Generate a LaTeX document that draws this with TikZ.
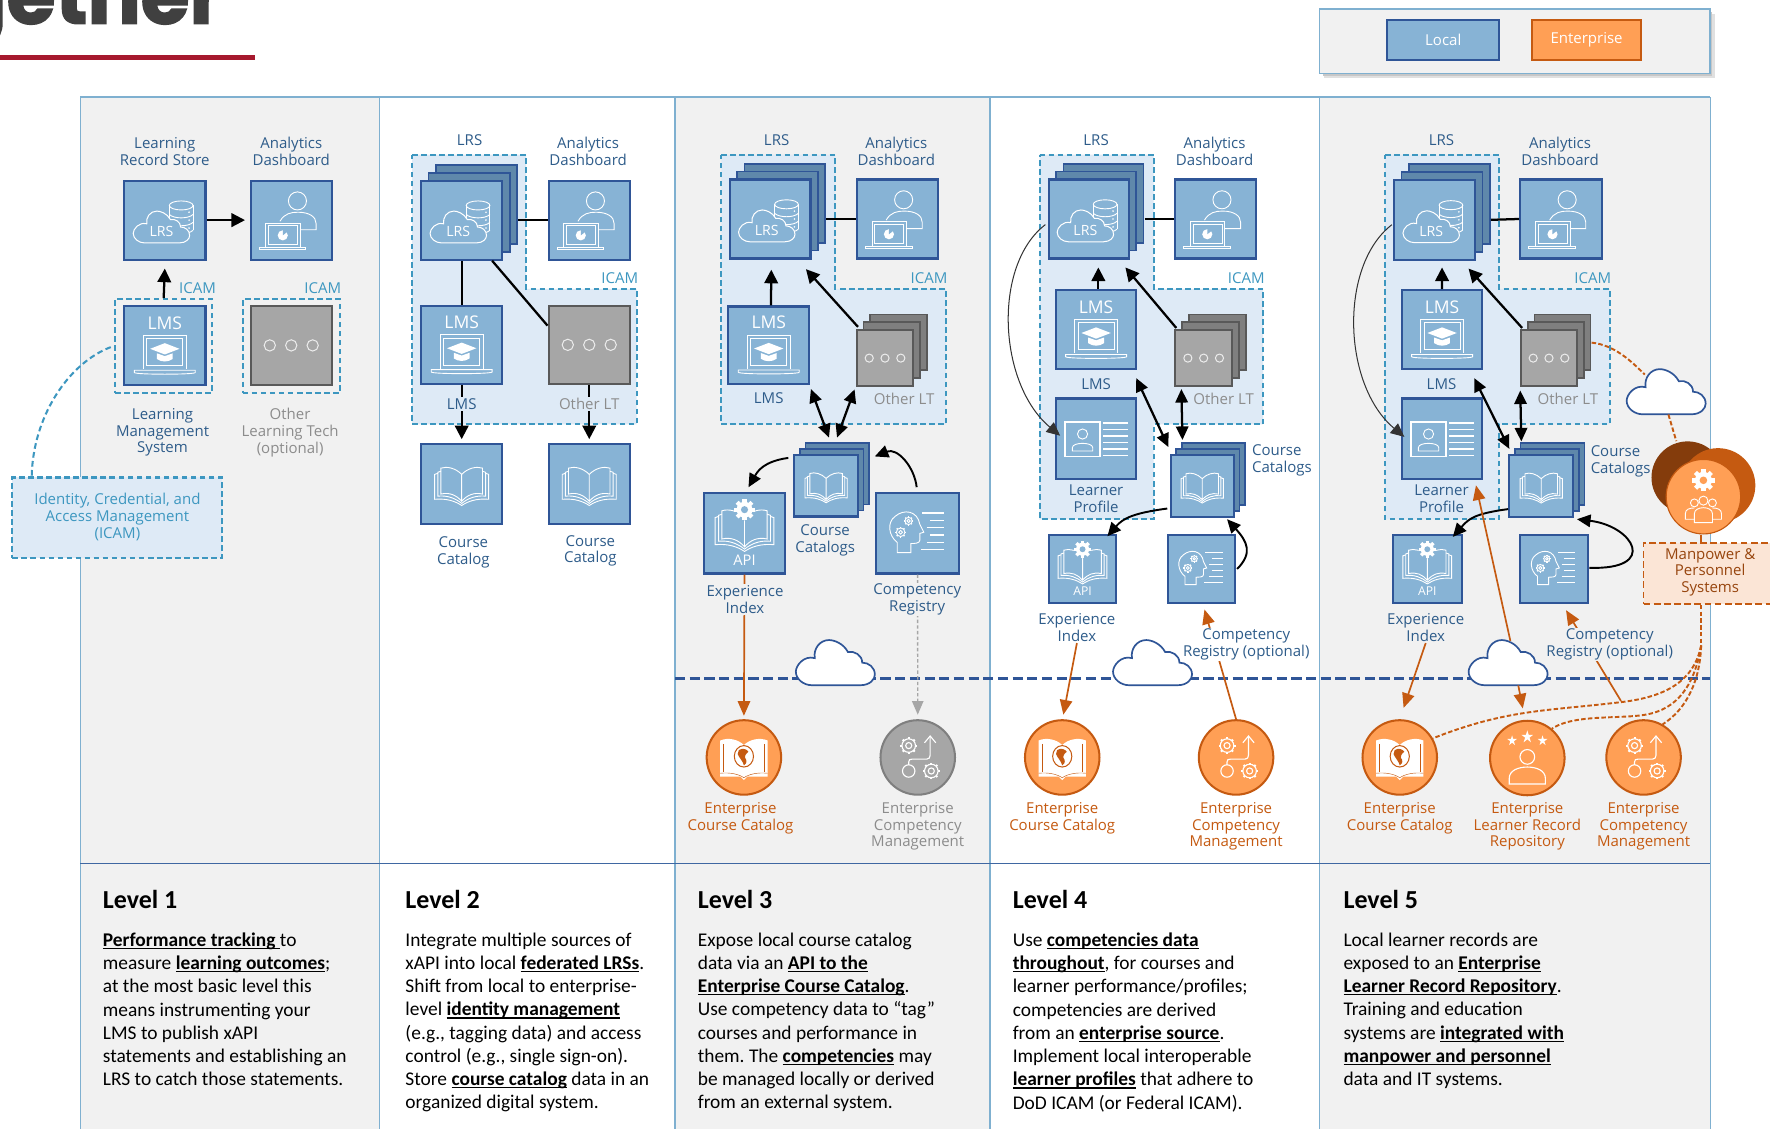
\documentclass[tikz,border=0pt]{standalone}
\usepackage{fontspec}
\setmainfont{Open Sans}
\newfontfamily\bodyf{Carlito}
\newfontfamily\titlef[BoldFeatures={FakeBold=2}]{Poppins}
\usetikzlibrary{calc,arrows.meta}
\definecolor{lfill}{HTML}{87B3D5}
\definecolor{lline}{HTML}{2F5597}
\definecolor{lback}{HTML}{5F88AB}
\definecolor{gfill}{HTML}{A6A6A6}
\definecolor{gline}{HTML}{595959}
\definecolor{gback}{HTML}{7F7F7F}
\definecolor{ofill}{HTML}{FF9F55}
\definecolor{oline}{HTML}{C55A11}
\definecolor{odark}{HTML}{843C0C}
\definecolor{pgray}{HTML}{F1F1F1}
\definecolor{pline}{HTML}{7FB0D0}
\definecolor{rfill}{HTML}{DEEAF6}
\definecolor{icam}{HTML}{3D97C0}
\definecolor{lbl}{HTML}{2E5C8A}
\definecolor{glbl}{HTML}{8C8C8C}
\definecolor{mfill}{HTML}{FBE5D6}
\definecolor{redl}{HTML}{A6192E}
\definecolor{titl}{HTML}{404040}
\newcommand\bx[6]{\node[#1,minimum width={(#5-#3)*1pt},minimum height={(#6-#4)*1pt}] (#2) at ({(#3+#5)/2},{(#4+#6)/2}) {};}
\newcommand\stackbx[9]{%
 \path[#1] ({#4+2*#8},{#5+2*#9}) rectangle ({#6+2*#8},{#7+2*#9});
 \path[#1] ({#4+#8},{#5+#9}) rectangle ({#6+#8},{#7+#9});
 \bx{#2}{#3}{#4}{#5}{#6}{#7}}
\newcommand\cloudp{(20,60) -- (82,60) .. controls (94,60) and (100,52) .. (100,46) .. controls (100,36) and (92,30) .. (84,30) .. controls (84,20) and (74,14) .. (66,16) .. controls (60,4) and (48,0) .. (42,0) .. controls (30,0) and (22,12) .. (24,24) .. controls (10,20) and (0,34) .. (0,42) .. controls (0,52) and (10,60) .. (20,60) -- cycle}
\newcommand\bigcloud[5]{%
 \node[inner sep=0,minimum width={(#4)*1pt},minimum height={(#5)*1pt}] (#1) at ({#2+#4/2},{#3+#5/2}) {};
 \begin{scope}[shift={(#2,#3)},xscale=#4/100,yscale=#5/60]
 \filldraw[fill=white,draw=lline,line width=1.5] \cloudp;
 \end{scope}}
\newcommand\gearf[4]{%
 \foreach \a in {0,45,90,135}{\fill[white,shift={(#1,#2)},rotate=\a] ({-.26*#3},{-1.32*#3}) rectangle ({.26*#3},{1.32*#3});}
 \fill[white] (#1,#2) circle ({#3});
 \fill[#4] (#1,#2) circle ({.45*#3});}
\newcommand\gearo[3]{%
 \foreach \a in {0,45,...,315}{\draw[white,line width=1.3,shift={(#1,#2)},rotate=\a] (0,{#3}) -- (0,{1.28*#3});}
 \draw[ic] (#1,#2) circle ({#3});
 \draw[ic] (#1,#2) circle ({.45*#3});}
\newcommand\iLRS[2]{\begin{scope}[shift={(#1.center)},scale=#2]
 \draw[ic] (4,-13) -- (4,9) (25,-13) -- (25,9);
 \draw[ic] (14.5,-13) ellipse (10.5 and 4);
 \foreach \yy in {-5,2,9}{\draw[ic] (4,\yy) .. controls (8,{\yy+4}) and (21,{\yy+4}) .. (25,\yy);}
 \foreach \yy in {-7,0,7}{\fill[white] (21.5,\yy) circle (.8);}
 \begin{scope}[shift={(-28,-8)},xscale=.5,yscale=.47]
 \filldraw[fill=lfill,draw=white,line width=.9] \cloudp;
 \end{scope}
 \node[transform shape,text=white,font=\fontsize{12.5}{12}\selectfont,inner sep=0] (#1t) at (-3,10) {LRS};
 \end{scope}}
\newcommand\iDash[2]{\begin{scope}[shift={(#1.center)},scale=#2]
 \draw[ic] (5.5,-17) circle (8);
 \draw[ic] (-10,1) .. controls (-6,-6) and (0,-7) .. (6,-7) .. controls (16,-7) and (22,-3) .. (22,3) -- (22,8.5) -- (8,8.5);
 \filldraw[fill=lfill,draw=white,line width=.8] (-22.5,2.6) rectangle (8,24);
 \draw[ic] (-20,5) rectangle (5.5,21.6);
 \fill[white] (-7.5,13.5) circle (4.5);
 \fill[lfill] (-7.5,13.5) -- (-7.5,8.5) -- (-3,10) -- cycle;
 \draw[ic] (-28.5,24) -- (13,24) -- (13,26) -- (-28.5,26) -- cycle;
 \end{scope}}
\newcommand\iLMS[2]{\begin{scope}[shift={(#1.center)},scale=#2]
 \node[transform shape,text=white,font=\fontsize{15.5}{15}\selectfont,inner sep=0] (#1t) at (0,-20) {LMS};
 \draw[ic] (-19,21) -- (-19,-9) -- (19,-9) -- (19,21);
 \draw[ic] (-16,18) -- (-16,-6) -- (16,-6) -- (16,18) -- cycle;
 \fill[white] (-13,3) -- (0,-2) -- (13,3) -- (0,8) -- cycle;
 \fill[white] (-7,7) -- (0,9.5) -- (7,7) -- (7,12) .. controls (3,15) and (-3,15) .. (-7,12) -- cycle;
 \draw[ic] (-27,22) -- (27,22) -- (27,24) .. controls (27,26) and (-27,26) .. (-27,24) -- cycle;
 \end{scope}}
\newcommand\iDots[3]{\begin{scope}[shift={(#1.center)}]
 \foreach \xx in {-1,0,1}{\draw[white!85!gray,line width=.9] ({\xx*#2},0) circle (#3);}
 \end{scope}}
\newcommand\bookd{%
 \draw[ic] (-23,-10) -- (-26,-9) -- (-26,15) .. controls (-14,14) and (-6,17) .. (0,21) .. controls (6,17) and (14,14) .. (26,15) -- (26,-9) -- (23,-10);
 \draw[ic] (-20,-12) -- (-23,-11) -- (-23,12) .. controls (-14,11) and (-6,14) .. (0,19) .. controls (6,14) and (14,11) .. (23,12) -- (23,-11) -- (20,-12);
 \draw[ic] (0,-9) .. controls (-6,-15) and (-14,-17) .. (-20,-15) -- (-20,10) .. controls (-12,8) and (-5,11) .. (0,17) .. controls (5,11) and (12,8) .. (20,10) -- (20,-15) .. controls (14,-17) and (6,-15) .. (0,-9) -- (0,17);}
\newcommand\iBook[2]{\begin{scope}[shift={(#1.center)},scale=#2]\bookd\end{scope}}
\newcommand\iAPI[2]{\begin{scope}[shift={(#1.center)},scale=#2]
 \begin{scope}[shift={(0,-5)}]\bookd\end{scope}
 \fill[lfill] (0,-21) circle (9.5);
 \gearf{0}{-21}{7}{lfill}
 \node[transform shape,text=white,font=\fontsize{13}{13}\selectfont,inner sep=0] (#1t) at (0,24) {API};
 \end{scope}}
\newcommand\iComp[2]{\begin{scope}[shift={(#1.center)},scale=#2]
 \draw[ic] (-18,17) -- (-18,8) .. controls (-26,2) and (-27,-10) .. (-20,-15) .. controls (-12,-22) and (0,-20) .. (2,-8) -- (5.5,-1) -- (2,0) -- (2,6) .. controls (2,9) and (-3,9) .. (-6,9) -- (-6,17) -- cycle;
 \gearo{-8}{-11}{3.2}
 \gearo{-15}{-1}{3.8}
 \foreach \xa/\yy in {4/-18,11/-11.5,8/-5,11/1.5,8/8,3/14.5}{\draw[white,line width=1.3] (\xa,\yy) -- (23,\yy);}
 \end{scope}}
\newcommand\iProfile[2]{\begin{scope}[shift={(#1.center)},scale=#2]
 \draw[white,line width=1.4] (-27.5,-14.5) rectangle (3.5,16);
 \draw[ic] (-12,-4) circle (4.5);
 \draw[ic] (-21,11) -- (-21,8) .. controls (-21,3) and (-3,3) .. (-3,8) -- (-3,11) -- cycle;
 \foreach \yy in {-13.6,-8,-2.2,3.4,9.2,15}{\draw[white,line width=1.3] (6.5,\yy) -- (28,\yy);}
 \end{scope}}
\newcommand\iEBook[3]{\begin{scope}[shift={(#1.center)},scale=#2]
 \fill[white] (-21,-15) .. controls (-14,-18) and (-5,-16) .. (0,-11) .. controls (5,-16) and (14,-18) .. (21,-15) -- (21,17) -- (3,17) -- (0,20) -- (-3,17) -- (-21,17) -- cycle;
 \foreach \xx in {-18}{\draw[#3,line width=.4] (\xx,-12) -- (\xx,13);\draw[#3,line width=.4] ({-\xx},-12) -- ({-\xx},13);}
 \draw[#3,line width=.4] (-21,14) .. controls (-12,13) and (-4,15) .. (0,18) .. controls (4,15) and (12,13) .. (21,14);
 \filldraw[fill=white,draw=#3,line width=.9] (0,-1) ellipse (8.5 and 9.5);
 \fill[#3] (-4.5,-6.5) .. controls (-1,-9) and (3,-7) .. (4,-5) .. controls (1,-3) and (0,0) .. (2,2) .. controls (3,5) and (1,6) .. (0,7) .. controls (-1,3) and (-4.5,0) .. (-5.5,-3) -- cycle;
 \end{scope}}
\newcommand\gearoo[3]{%
 \foreach \a in {0,45,...,315}{\draw[white,line width=1.8,shift={(#1,#2)},rotate=\a] (0,{#3}) -- (0,{1.25*#3});}
 \draw[white,line width=1] (#1,#2) circle ({#3});
 \draw[white,line width=1] (#1,#2) circle ({.45*#3});}
\newcommand\iEComp[2]{\begin{scope}[shift={(#1.center)},scale=#2]
 \gearoo{-8}{-10.5}{6}
 \gearoo{12}{12}{6}
 \draw[white,line width=1] (-8,12) circle (5.5);
 \draw[white,line width=1] (-8,6.5) -- (-8,4) .. controls (-8,2) and (-7,1.5) .. (-5,1.5) -- (8,1.5) .. controls (10,1.5) and (11,0) .. (11,-2) -- (11,-19);
 \draw[white,line width=1] (6,-13) -- (11,-19) -- (16,-13);
 \end{scope}}
\newcommand\starat[3]{\fill[white] (#1,{#2-#3}) -- ++(.22*#3,.72*#3) -- ++(.73*#3,0) -- ++(-.6*#3,.45*#3) -- ++(.24*#3,.75*#3) -- ++(-.59*#3,-.47*#3) -- ++(-.59*#3,.47*#3) -- ++(.24*#3,-.75*#3) -- ++(-.6*#3,-.45*#3) -- ++(.73*#3,0) -- cycle;}
\newcommand\iEPers[1]{\begin{scope}[shift={(#1.center)}]
 \starat{-13.5}{-15.6}{4.5}
 \starat{0}{-19}{5.5}
 \starat{13.5}{-15.6}{4.5}
 \draw[white,line width=1] (0,-1) circle (6.5);
 \draw[white,line width=1] (-16,23) -- (-16,18) .. controls (-16,11) and (-8,8) .. (0,8) .. controls (8,8) and (16,11) .. (16,18) -- (16,23) -- cycle;
 \end{scope}}
\newcommand\bul[1]{\setbox0\hbox{\bfseries #1}\rlap{\rule[-2.4pt]{\wd0}{1.1pt}}\box0\relax}
\tikzset{
 ic/.style={draw=white,line width=.8},
 localbox/.style={draw=lline,fill=lfill,line width=1.9,inner sep=0},
 graybox/.style={draw=gline,fill=gfill,line width=1.9,inner sep=0},
 orbox/.style={draw=oline,fill=ofill,line width=1.9,inner sep=0},
 lbackbox/.style={draw=lline,fill=lback,line width=1.5},
 gbackbox/.style={draw=gline,fill=gback,line width=1.5},
 regn/.style={draw=icam,fill=rfill,line width=1.8,dash pattern=on 5pt off 3pt},
 icambox/.style={draw=icam,line width=1.8,dash pattern=on 5pt off 3pt,inner sep=0},
 conn/.style={draw=black,line width=2},
 arr/.style={conn,-{Triangle[length=12pt,width=12pt]}},
 darr/.style={conn,{Triangle[length=12pt,width=11pt]}-{Triangle[length=12pt,width=11pt]}},
 thinarr/.style={draw=black!80,line width=.9,-{Triangle[length=12pt,width=11pt]}},
 carr/.style={draw=black,line width=1.7,-{Triangle[length=12pt,width=11pt]}},
 oarr/.style={draw=oline,line width=1.5,-{Triangle[length=13pt,width=11pt]}},
 oconn/.style={draw=oline,line width=1.5},
 odash/.style={draw=oline,line width=1.7,dash pattern=on 4pt off 2pt},
 enode/.style={circle,draw=oline,fill=ofill,line width=1.8,inner sep=0,minimum size=66pt},
 gnode/.style={circle,draw=gback,fill=gfill,line width=1.8,inner sep=0,minimum size=66pt},
 lab/.style={align=center,inner sep=0,text=lbl,font=\fontsize{13.3}{15}\selectfont},
 glab/.style={lab,text=glbl},
 olab/.style={lab,text=oline},
 icamlab/.style={inner sep=0,text=icam,font=\fontsize{13.3}{15}\selectfont},
 ttl/.style={anchor=west,inner sep=0,font=\bodyf\bfseries\fontsize{23}{26}\selectfont},
 bodyt/.style={anchor=north west,inner sep=0,align=left,font=\bodyf\fontsize{17.2}{20.6}\selectfont\frenchspacing},
}
\begin{document}
\begin{tikzpicture}[x=1pt,y=-1pt]
\useasboundingbox (0,0) rectangle (1568,1000);
\clip (0,0) rectangle (1568,1000);
\fill[white] (0,0) rectangle (1568,1000);
% title fragment
\node[anchor=base east,inner sep=0,text=titl,font=\titlef\bfseries\fontsize{70}{70}\selectfont] (title) at (198,21) {gether};
\draw[redl,line width=4.4] (0,51) -- (226,51);
% legend
\fill[black!12] (1173,12) rectangle (1519,69);
\fill[black!22] (1172,11) rectangle (1517,67);
\filldraw[fill=pgray,draw=pline,line width=1.3] (1169,8) rectangle (1515,65);
\node[localbox,minimum width=99pt,minimum height=35pt,text=white,font=\fontsize{13.3}{15}\selectfont] (legl) at (1278.5,35.5) {Local};
\node[orbox,minimum width=97pt,minimum height=35pt,text=white,font=\fontsize{13.3}{15}\selectfont] (lege) at (1405.5,35.5) {Enterprise};
% panels
\fill[pgray] (71,86) rectangle (336,1000);
\fill[pgray] (598,86) rectangle (877,1000);
\fill[pgray] (1169,86) rectangle (1515,1000);
\foreach \xx in {71,336,598,877,1169,1515}{\draw[pline,line width=1.1] (\xx,86) -- (\xx,1000);}
\draw[pline,line width=1.1] (71,86) -- (1515,86);
\draw[lline!80!pline,line width=1.1] (71,765) -- (1515,765);
% network line
\draw[lline,line width=1.9,dash pattern=on 9pt off 4pt] (598,601) -- (1515,601);
\bigcloud{c3}{705}{567}{70}{40}
\bigcloud{c4}{986}{567}{70}{40}
\bigcloud{c5}{1301}{567}{70}{40}
% ------------- Level 1
\bx{localbox}{l1lrs}{110}{160}{182}{230}\iLRS{l1lrs}{1}
\bx{localbox}{l1dash}{222}{160}{294}{230}\iDash{l1dash}{1}
\bx{icambox}{l1ia}{102}{265}{188}{348}
\bx{icambox}{l1ib}{215}{265}{301}{348}
\bx{localbox}{l1lms}{110}{271}{182}{341}\iLMS{l1lms}{1}
\bx{graybox}{l1oth}{222}{271}{294}{341}\iDots{l1oth}{19}{5}
\bx{icambox,fill=rfill}{l1icam}{11}{423}{197}{494}
\draw[arr] (l1lrs.east) -- ($(l1dash.west)+(-4,0)$);
\draw[arr] (l1ia.north) -- ($(l1lrs.south)+(0,7)$);
\draw[icam,line width=1.8,dash pattern=on 5pt off 3pt] ($(l1ia.west)+(-3,1)$) .. controls (60,322) and (29,370) .. ($(l1icam.north west)+(18,0)$);
\node[icamlab] (t1a) at (175,255) {ICAM};
\node[icamlab] (t1b) at (286,255) {ICAM};
\node[lab] (t1c) at (146,134) {Learning\\Record Store};
\node[lab] (t1d) at (258,134) {Analytics\\Dashboard};
\node[lab] (t1e) at (144,383) {Learning\\Management\\System};
\node[glab] (t1f) at (257,383) {Other\\Learning Tech\\(optional)};
\node[lab,text=icam] (t1g) at (104,458) {Identity, Credential, and\\Access Management\\(ICAM)};
% ------------- Level 2
\filldraw[regn] (365,137) -- (466,137) -- (466,256) -- (564,256) -- (564,376) -- (365,376) -- cycle;
\stackbx{lbackbox}{localbox}{l2lrs}{373}{160}{445}{230}{6.5}{-7}\iLRS{l2lrs}{1}
\bx{localbox}{l2dash}{486}{160}{558}{230}\iDash{l2dash}{1}
\bx{localbox}{l2lms}{373}{271}{445}{340}\iLMS{l2lms}{1}
\bx{graybox}{l2oth}{486}{271}{558}{340}\iDots{l2oth}{19}{5}
\bx{localbox}{l2cata}{373}{393}{445}{464}\iBook{l2cata}{.92}
\bx{localbox}{l2catb}{486}{393}{558}{464}\iBook{l2catb}{.92}
\draw[conn] ($(l2lrs.east)+(13,0)$) -- (l2dash.west);
\draw[conn] (l2lms.north) -- (l2lms.north |- l2lrs.south);
\draw[conn] ($(l2lrs.south east)+(-10,0)$) -- ($(l2oth.west)+(0,-17)$);
\draw[arr] (l2lms.south) -- ($(l2cata.north)+(0,-3)$);
\draw[arr] (l2oth.south) -- ($(l2catb.north)+(0,-3)$);
\node[lab,fill=rfill,inner sep=1pt] (t2a) at (409,358) {LMS};
\node[glab,fill=rfill,inner sep=1pt] (t2b) at (522,358) {Other LT};
\node[lab] (t2c) at (416,124) {LRS};
\node[lab] (t2d) at (521,134) {Analytics\\Dashboard};
\node[icamlab] (t2e) at (549,246) {ICAM};
\node[lab] (t2f) at (410.5,489) {Course\\Catalog};
\node[lab] (t2g) at (523,488) {Course\\Catalog};
% ------------- Level 3
\filldraw[regn] (639,137) -- (740,137) -- (740,256) -- (838,256) -- (838,376) -- (639,376) -- cycle;
\stackbx{lbackbox}{localbox}{l3lrs}{646.5}{159}{718}{229}{6.5}{-7}\iLRS{l3lrs}{1}
\bx{localbox}{l3dash}{759}{159}{831}{229}\iDash{l3dash}{1}
\bx{localbox}{l3lms}{645}{271.5}{717}{340}\iLMS{l3lms}{1}
\stackbx{gbackbox}{graybox}{l3oth}{759}{292.5}{809}{342}{6}{-7}\iDots{l3oth}{14}{3.6}
\stackbx{lbackbox}{localbox}{l3cat}{703.6}{403}{760}{457.5}{5}{-5.3}\iBook{l3cat}{.72}
\bx{localbox}{l3api}{623.5}{437}{695.6}{508}\iAPI{l3api}{1}
\bx{localbox}{l3comp}{776.3}{437}{849.4}{508}\iComp{l3comp}{1}
\node[enode] (l3cec) at (659,671) {};\iEBook{l3cec}{1}{oline}
\node[gnode] (l3ecm) at (813,671) {};\iEComp{l3ecm}{1}
\draw[conn] ($(l3lrs.east)+(13,0)$) -- (l3dash.west);
\draw[arr] ($(l3lms.north)+(2,0)$) -- ($(l3lrs.south)+(1,9)$);
\draw[arr] ($(l3oth.north west)+(2,-2)$) -- ($(l3lrs.south east)+(-5,8.5)$);
\draw[darr] ($(l3lms.south east)+(0.4,3.7)$) -- ($(l3cat.north)+(2.6,-14.4)$);
\draw[darr] ($(l3oth.south west)+(-1,2)$) -- ($(l3cat.north)+(9.7,-14.4)$);
\draw[carr] ($(l3cat.north west)+(-4.3,3.6)$) .. controls +(-22,3) and +(8,-14) .. ($(l3api.north)+(3.5,-4.4)$);
\draw[carr] ($(l3comp.north)+(-0.8,-4.5)$) .. controls +(-2,-18) and +(20,-8) .. ($(l3cat.north east)+(14,2.3)$);
\draw[oarr] (l3api.south) -- ($(l3cec.north)+(0,-3)$);
\draw[gfill,line width=1.2,dash pattern=on 3pt off 2pt,-{Triangle[length=12pt,width=10pt]}] (l3comp.south) -- ($(l3ecm.north)+(0,-4)$);
\node[lab] (t3a) at (688,124) {LRS};
\node[lab] (t3b) at (794,134) {Analytics\\Dashboard};
\node[icamlab] (t3c) at (823,246) {ICAM};
\node[lab] (t3d) at (681,353) {LMS};
\node[glab] (t3e) at (801,353) {Other LT};
\node[lab] (t3f) at (731,479) {Course\\Catalogs};
\node[lab,fill=pgray,inner sep=1pt] (t3g) at (660,531) {Experience\\Index};
\node[lab,fill=pgray,inner sep=1pt] (t3h) at (812.5,531) {Competency\\Registry};
\node[olab] (t3i) at (656,725) {Enterprise\\Course Catalog};
\node[glab] (t3j) at (813,732) {Enterprise\\Competency\\Management};
% ------------- Level 4
\filldraw[regn] (921,137) -- (1022,137) -- (1022,256) -- (1119,256) -- (1119,376) -- (1022,376) -- (1022,460) -- (921,460) -- cycle;
\stackbx{lbackbox}{localbox}{l4lrs}{929}{159}{1000}{229}{6.5}{-7}\iLRS{l4lrs}{1}
\bx{localbox}{l4dash}{1041}{159}{1113}{229}\iDash{l4dash}{1}
\bx{localbox}{l4lms}{935.6}{257}{1006.4}{327}\iLMS{l4lms}{1}
\stackbx{gbackbox}{graybox}{l4oth}{1041}{292.5}{1091.6}{342}{6}{-7}\iDots{l4oth}{14}{3.6}
\bx{localbox}{l4lp}{935.6}{353}{1006.4}{424}\iProfile{l4lp}{1}
\stackbx{lbackbox}{localbox}{l4cat}{1037}{403}{1093}{458}{5}{-5.3}\iBook{l4cat}{.72}
\bx{localbox}{l4api}{929}{474}{989}{534}\iAPI{l4api}{.83}
\bx{localbox}{l4comp}{1035}{474}{1094}{534}\iComp{l4comp}{.82}
\node[enode] (l4cec) at (941,671) {};\iEBook{l4cec}{1}{oline}
\node[enode] (l4ecm) at (1095,671) {};\iEComp{l4ecm}{1}
\draw[conn] ($(l4lrs.east)+(13,0)$) -- (l4dash.west);
\draw[arr] ($(l4lms.north)+(2,0)$) -- ($(l4lrs.south)+(8.5,7)$);
\draw[arr] ($(l4oth.north west)+(2,-1)$) -- ($(l4lrs.south east)+(-4,7)$);
\draw[thinarr] ($(l4lrs.west)+(-2,5)$) .. controls +(-47,36) and +(-55,-46) .. ($(l4lp.west)+(4.5,-2.5)$);
\draw[darr] ($(l4lms.south east)+(-0.8,7)$) -- ($(l4cat.north west)+(-1,-6)$);
\draw[darr] ($(l4oth.south west)+(6.5,1.7)$) -- ($(l4cat.north)+(-17.5,-12.3)$);
\draw[carr] ($(l4cat.west)+(-2,20)$) .. controls +(-30,4) and +(14,-16) .. ($(l4api.north)+(22,2)$);
\draw[carr] ($(l4comp.east)+(1,0)$) .. controls +(14,-14) and +(18,20) .. ($(l4cat.south)+(22,1)$);
\node[lab,fill=white,inner sep=1pt] (t4g) at (954,556) {Experience\\Index};
\draw[oarr] (t4g.south) -- ($(l4cec.north)+(1,-4)$);
\draw[oarr] (l4ecm.north) -- ($(l4comp.south)+(2.5,5)$);
\node[lab,fill=white,inner sep=1pt] (t4h) at (1104,571) {Competency\\Registry (optional)};
\node[lab] (t4a) at (971,124) {LRS};
\node[lab] (t4b) at (1076,134) {Analytics\\Dashboard};
\node[icamlab] (t4c) at (1104,246) {ICAM};
\node[lab] (t4d) at (971,340) {LMS};
\node[glab] (t4e) at (1084,353) {Other LT};
\node[lab,anchor=west,align=left] (t4f) at (1109,408) {Course\\Catalogs};
\node[lab] (t4k) at (971,442) {Learner\\Profile};
\node[olab] (t4i) at (941,725) {Enterprise\\Course Catalog};
\node[olab] (t4j) at (1095,732) {Enterprise\\Competency\\Management};
% ------------- Level 5
\filldraw[regn] (1227,137) -- (1328,137) -- (1328,256) -- (1426,256) -- (1426,376) -- (1328,376) -- (1328,460) -- (1227,460) -- cycle;
\stackbx{lbackbox}{localbox}{l5lrs}{1235}{159.5}{1306.7}{230}{6.5}{-7}\iLRS{l5lrs}{1}
\bx{localbox}{l5dash}{1346.6}{159}{1419}{229}\iDash{l5dash}{1}
\bx{localbox}{l5lms}{1242}{257}{1313}{327}\iLMS{l5lms}{1}
\stackbx{gbackbox}{graybox}{l5oth}{1347.4}{292.5}{1397}{342}{6}{-7}\iDots{l5oth}{14}{3.6}
\bx{localbox}{l5lp}{1242}{353}{1313}{424}\iProfile{l5lp}{1}
\stackbx{lbackbox}{localbox}{l5cat}{1337}{403}{1393.6}{458}{5}{-5.3}\iBook{l5cat}{.72}
\bx{localbox}{l5api}{1233.8}{474}{1295}{534}\iAPI{l5api}{.83}
\bx{localbox}{l5comp}{1346.6}{474}{1407}{534}\iComp{l5comp}{.82}
\node[enode] (l5cec) at (1240,671) {};\iEBook{l5cec}{1}{oline}
\node[enode] (l5elr) at (1353,671.5) {};\iEPers{l5elr}
\node[enode] (l5ecm) at (1456,671) {};\iEComp{l5ecm}{1}
\bigcloud{cm}{1441}{327}{70}{40}
% manpower
\node[circle,fill=odark,inner sep=0,minimum size=64pt] (l5ga) at (1495,423) {};
\node[circle,fill=oline,inner sep=0,minimum size=66pt] (l5gb) at (1522,430) {};
\node[circle,draw=oline,fill=ofill,line width=1,inner sep=0,minimum size=66pt] (l5gc) at (1509,440) {};
\gearf{1509}{425.5}{7.5}{ofill}
\begin{scope}[shift={(l5gc.center)}]
 \draw[ic] (0,3.5) circle (4);
 \draw[ic] (-8,5.5) circle (3.5);
 \draw[ic] (8,5.5) circle (3.5);
 \draw[ic] (-8,23) -- (-8,15) .. controls (-8,8) and (8,8) .. (8,15) -- (8,23) -- cycle;
 \draw[ic] (-8,20) -- (-16,20) -- (-16,15) .. controls (-16,11) and (-12,10) .. (-8,10);
 \draw[ic] (8,20) -- (16,20) -- (16,15) .. controls (16,11) and (12,10) .. (8,10);
\end{scope}
\bx{fill=mfill,draw=oline,line width=1.6,dash pattern=on 6pt off 3pt,inner sep=0}{l5mp}{1456}{481}{1574}{535}
\draw[oconn] ($(l5gc.south)+(-2,0)$) -- ($(l5mp.north)+(-8,0)$);
\draw[odash] ($(l5oth.north east)+(12,12)$) .. controls +(20,2) and +(-12,-12) .. ($(cm.north)+(-19,5)$);
\draw[odash] ($(cm.south)+(2,0)$) -- ($(l5ga.north)+(-10,0)$);
\coordinate (mps) at ($(l5mp.south)+(-8,36)$);
\draw[odash] ($(l5mp.south)+(-8,0)$) -- (mps);
\draw[odash] (mps) .. controls +(-7,35) and +(34,-4) .. (1436,622) .. controls +(-66,8) and +(66,-26) .. (l5cec.30);
\draw[odash] (mps) .. controls +(-5,30) and +(27,-7) .. (1463,632) .. controls +(-23,6) and +(21,-14) .. (l5elr.50);
\draw[odash] (mps) .. controls +(-1,30) and +(22,-14) .. (l5ecm.60);
\draw[conn] ($(l5lrs.east)+(13,0)$) -- (l5dash.west);
\draw[arr] (l5lms.north) -- ($(l5lrs.south)+(6.6,6)$);
\draw[arr] ($(l5oth.north west)+(2,-1)$) -- ($(l5lrs.south east)+(-6.7,7)$);
\draw[thinarr] ($(l5lrs.west)+(-1,4.3)$) .. controls +(-47,36) and +(-55,-46) .. ($(l5lp.west)+(3,-1.5)$);
\draw[darr] ($(l5lms.south east)+(-8,7)$) -- ($(l5cat.north west)+(1,-4.4)$);
\draw[darr] ($(l5oth.south west)+(0.3,3)$) -- ($(l5cat.north)+(-17.6,-11)$);
\draw[carr] ($(l5cat.west)+(0,20.5)$) .. controls +(-30,4) and +(14,-16) .. ($(l5api.north)+(22.6,2.6)$);
\draw[carr] ($(l5comp.east)+(0,-1)$) .. controls +(62,2) and +(50,6) .. ($(l5cat.south)+(31.7,1)$);
\node[lab,fill=pgray,inner sep=1pt] (t5g) at (1263,556) {Experience\\Index};
\draw[oarr] (t5g.south) -- ($(l5cec.north)+(3.4,-10)$);
\coordinate (cmpfree) at (1436,621);
\draw[oarr] (cmpfree) -- ($(l5comp.south)+(10.5,5.6)$);
\draw[oarr] ($(c5.north)+(2,1)$) -- ($(l5lp.south)+(30,5)$);
\draw[oarr] ($(c5.south)+(9,0)$) -- ($(l5elr.north)+(-4,-10)$);
\node[lab,fill=pgray,inner sep=1pt] (t5h) at (1426,571) {Competency\\Registry (optional)};
\node[lab] (t5a) at (1277,124) {LRS};
\node[lab] (t5b) at (1382,134.5) {Analytics\\Dashboard};
\node[icamlab] (t5c) at (1411,246) {ICAM};
\node[lab] (t5d) at (1277,340) {LMS};
\node[glab] (t5e) at (1389,353) {Other LT};
\node[lab,anchor=west,align=left] (t5f) at (1409,408.5) {Course\\Catalogs};
\node[lab] (t5k) at (1277,442) {Learner\\Profile};
\node[lab,text=odark!70!oline] (t5m) at (1515,507) {Manpower \&\\Personnel\\Systems};
\node[olab] (t5i) at (1240,725) {Enterprise\\Course Catalog};
\node[olab] (t5j) at (1353,732) {Enterprise\\Learner Record\\Repository};
\node[olab] (t5l) at (1456,732) {Enterprise\\Competency\\Management};
% ------------- text
\node[ttl] (h1) at (91,797) {Level 1};
\node[ttl] (h2) at (359,797) {Level 2};
\node[ttl] (h3) at (618,797) {Level 3};
\node[ttl] (h4) at (897,797) {Level 4};
\node[ttl] (h5) at (1190,797) {Level 5};
\node[bodyt] (b1) at (91,826) {\bul{Performance tracking }to\\measure \bul{learning outcomes};\\at the most basic level this\\means instrumenting your\\LMS to publish xAPI\\statements and establishing an\\LRS to catch those statements.};
\node[bodyt] (b2) at (359,826) {Integrate multiple sources of\\xAPI into local \bul{federated LRSs}.\\Shift from local to enterprise-\\level \bul{identity management}\\(e.g., tagging data) and access\\control (e.g., single sign-on).\\Store \bul{course catalog} data in an\\organized digital system.};
\node[bodyt] (b3) at (618,826) {Expose local course catalog\\data via an \bul{API to the}\\\bul{Enterprise Course Catalog}.\\Use competency data to “tag”\\courses and performance in\\them. The \bul{competencies} may\\be managed locally or derived\\from an external system.};
\node[bodyt] (b4) at (897,826) {Use \bul{competencies data}\\\bul{throughout}, for courses and\\learner performance/profiles;\\competencies are derived\\from an \bul{enterprise source}.\\Implement local interoperable\\\bul{learner profiles} that adhere to\\DoD ICAM (or Federal ICAM).};
\node[bodyt] (b5) at (1190,826) {Local learner records are\\exposed to an \bul{Enterprise}\\\bul{Learner Record Repository}.\\Training and education\\systems are \bul{integrated with}\\\bul{manpower and personnel}\\data and IT systems.};
\end{tikzpicture}
\end{document}
